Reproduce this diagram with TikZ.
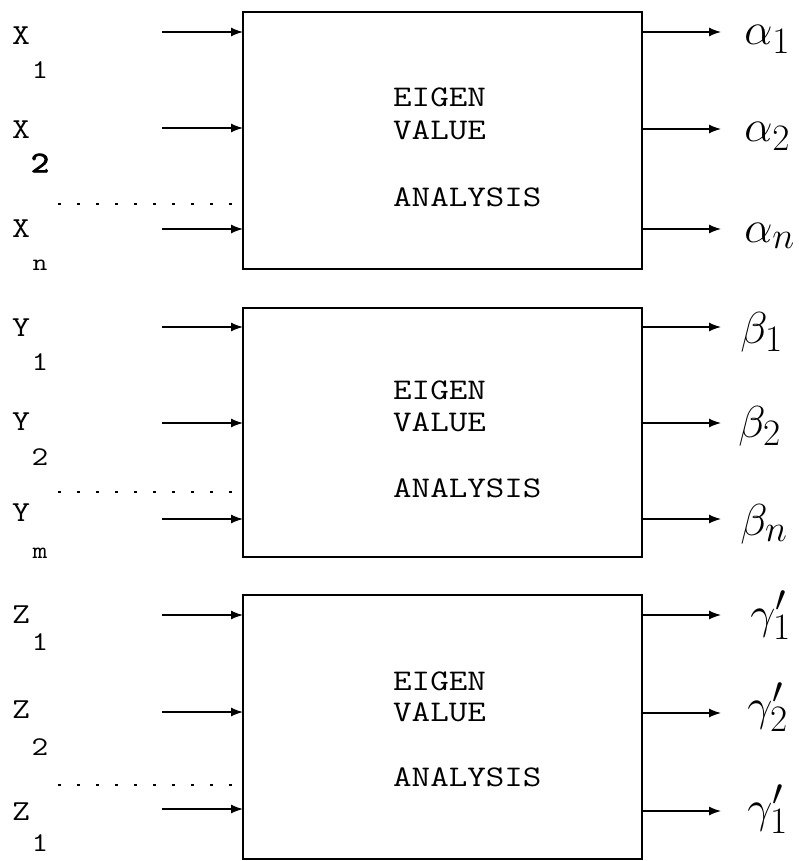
\documentclass[tikz,border=0pt]{standalone}
\usepackage{fontspec}
\newfontfamily\tw{Latin Modern Mono}[FakeStretch=1.2]
\newfontfamily\twb{Latin Modern Mono}[FakeStretch=1.2,FakeBold=2.5]
\usetikzlibrary{arrows.meta}
\begin{document}
\begin{tikzpicture}[x=1pt,y=-1pt,
  box/.style={draw,line width=1.3pt,inner sep=0pt,outer sep=0pt,minimum width=399pt},
  boxtext/.style={font=\fontsize{30}{32}\tw,inner sep=0pt,anchor=west},
  lab/.style={font=\fontsize{29}{31}\tw,inner sep=0pt},
  sublab/.style={font=\fontsize{27}{29}\tw,inner sep=0pt},
  arr/.style={line width=1.3pt,-{Latex[length=12pt,width=9pt]}},
  dots/.style={line width=2.6pt,dash pattern=on 2.6pt off 16.4pt},
  greek/.style={font=\Huge,scale=1.8,inner sep=0pt,anchor=base west}]
\useasboundingbox (0,0) rectangle (798,861);

% boxes
\node[box,minimum height=257pt] (b1) at (442.5,140.5) {};
\node[box,minimum height=249pt] (b2) at (442.5,432.5) {};
\node[box,minimum height=264pt] (b3) at (442.5,727) {};

% box texts
\node[boxtext] (t1a) at (393,97) {EIGEN};
\node[boxtext] (t1b) at (393,130) {VALUE};
\node[boxtext] (t1c) at (393,197) {ANALYSIS};
\node[boxtext] (t2a) at (393,390) {EIGEN};
\node[boxtext] (t2b) at (393,422) {VALUE};
\node[boxtext] (t2c) at (393,488) {ANALYSIS};
\node[boxtext] (t3a) at (393,681) {EIGEN};
\node[boxtext] (t3b) at (393,712) {VALUE};
\node[boxtext] (t3c) at (393,777) {ANALYSIS};

% left labels
\node[lab] (lx1) at (21,36) {X};  \node[sublab] (sx1) at (40,70) {1};
\node[lab] (lx2) at (21,130) {X}; \node[sublab,font=\fontsize{30}{32}\twb] (sx2) at (40,163) {2};
\node[lab] (lx3) at (21,229) {X}; \node[sublab,font=\fontsize{24}{26}\tw] (sx3) at (40,265) {n};
\node[lab] (ly1) at (21,328) {Y}; \node[sublab] (sy1) at (40,362) {1};
\node[lab] (ly2) at (21,422) {Y}; \node[sublab] (sy2) at (40,457) {2};
\node[lab] (ly3) at (21,513) {Y}; \node[sublab,font=\fontsize{24}{26}\tw] (sy3) at (40,553) {m};
\node[lab] (lz1) at (21,615) {Z}; \node[sublab] (sz1) at (40,642) {1};
\node[lab] (lz2) at (21,710) {Z}; \node[sublab] (sz2) at (40,747) {2};
\node[lab] (lz3) at (21,812) {Z}; \node[sublab] (sz3) at (40,843) {1};

% input arrows
\foreach \n/\y/\b in {x1/32/b1,x2/128/b1,x3/229/b1,y1/327/b2,y2/423/b2,y3/519/b2,z1/615/b3,z2/712/b3,z3/809/b3}{
  \coordinate (in\n) at (162,\y);
  \draw[arr] (in\n) -- (in\n -| \b.west);
}
% output arrows
\foreach \n/\y/\b in {a1/32/b1,a2/129/b1,a3/229/b1,c1/327/b2,c2/423/b2,c3/519/b2,g1/615/b3,g2/713/b3,g3/811/b3}{
  \coordinate (out\n) at (721,\y);
  \draw[arr] (out\n -| \b.east) -- (out\n);
}

% dotted lines
\coordinate (d1s) at (58,204);  \coordinate (d1e) at (233,204);
\coordinate (d2s) at (58,492);  \coordinate (d2e) at (233,492);
\coordinate (d3s) at (58,785);  \coordinate (d3e) at (233,785);
\draw[dots] (d1s) -- (d1e);
\draw[dots] (d2s) -- (d2e);
\draw[dots] (d3s) -- (d3e);

% right labels
\node[greek] (ga1) at (744,45) {$\alpha_1$};
\node[greek] (ga2) at (744,142) {$\alpha_2$};
\node[greek] (ga3) at (744,242) {$\alpha_n$};
\node[greek] (gb1) at (740,343) {$\beta_1$};
\node[greek] (gb2) at (738,437) {$\beta_2$};
\node[greek] (gb3) at (740,535) {$\beta_n$};
\node[greek] (gg1) at (750,628) {$\gamma'_1$};
\node[greek] (gg2) at (747,720) {$\gamma'_2$};
\node[greek] (gg3) at (747,822) {$\gamma'_1$};
\end{tikzpicture}
\end{document}
